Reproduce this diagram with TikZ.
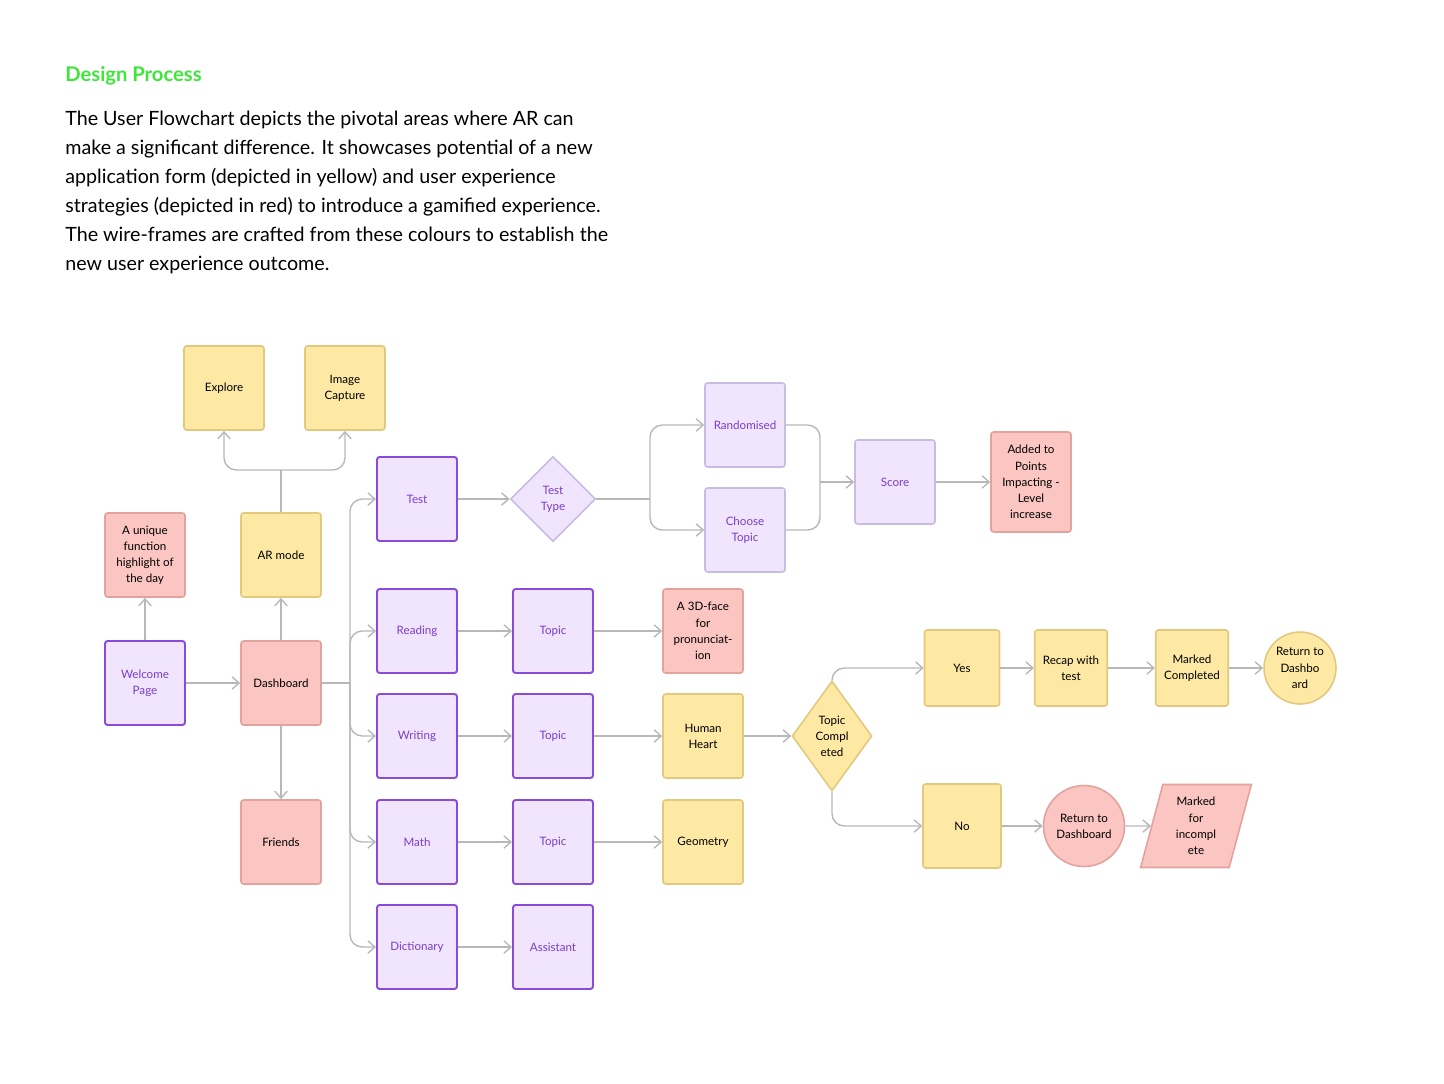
\documentclass[tikz,border=0pt]{standalone}
\usepackage{fontspec}
\setmainfont{Lato}
\usetikzlibrary{positioning,shapes,arrows.meta,calc}
\definecolor{ylwfill}{HTML}{FDE8A4}
\definecolor{ylwline}{HTML}{E2C97E}
\definecolor{redfill}{HTML}{FBC5C1}
\definecolor{redline}{HTML}{E2A29E}
\definecolor{purfill}{HTML}{F1E5FD}
\definecolor{purline}{HTML}{8A4BDB}
\definecolor{purtext}{HTML}{7A3CCB}
\definecolor{lpurline}{HTML}{C9BCE4}
\definecolor{greentitle}{HTML}{3EE63A}
\definecolor{connline}{HTML}{B8B8B8}

\begin{document}
\begin{tikzpicture}[x=0.02cm,y=-0.02cm,
    box/.style={rectangle,rounded corners=1.5pt,minimum width=1.6cm,minimum height=1.68cm,
                align=center,font=\fontsize{6.6}{9.2}\selectfont,inner sep=1pt},
    yellow node/.style={box,fill=ylwfill,draw=ylwline,line width=0.9pt},
    red node/.style={box,fill=redfill,draw=redline,line width=0.9pt},
    main node/.style={box,fill=purfill,draw=purline,line width=1.1pt,text=purtext},
    soft node/.style={box,fill=purfill,draw=lpurline,line width=0.9pt,text=purtext},
    conn/.style={draw=connline,line width=0.8pt,rounded corners=7pt,
                 -{Straight Barb[length=4pt,width=7pt]}},
    plain/.style={draw=connline,line width=0.8pt,rounded corners=7pt}
   ]
   \useasboundingbox (0,0) rectangle (1444,1083);

   % heading and text
   \node[anchor=base west,text=greentitle,font=\fontsize{11.5}{14}\selectfont\bfseries,inner sep=0]
        (title) at (65,81) {Design Process};
   \node[anchor=north west,align=left,inner sep=0,font=\fontsize{11.2}{16.45}\selectfont]
        (intro) at (65,111) {The User Flowchart depicts the pivotal areas where AR can\\
        make a significant difference. It showcases potential of a new\\
        application form (depicted in yellow) and user experience\\
        strategies (depicted in red) to introduce a gamified experience.\\
        The wire-frames are crafted from these colours to establish the\\
        new user experience outcome.};

   % left part
   \node[yellow node] (explore) at (224,388) {Explore};
   \node[yellow node] (capture) at (345,388) {Image\\Capture};
   \node[yellow node] (armode) at (281,555) {AR mode};
   \node[red node] (unique) at (145,555) {A unique\\function\\highlight of\\the day};
   \node[main node] (welcome) at (145,683) {Welcome\\Page};
   \node[red node] (dash) at (281,683) {Dashboard};
   \node[red node] (friends) at (281,842) {Friends};

   % subjects
   \node[diamond,aspect=1,fill=purfill,draw=lpurline,line width=0.9pt,text=purtext,
         minimum size=1.7cm,inner sep=0,align=center,font=\fontsize{6.6}{9.2}\selectfont]
         (testtype) at (553,499) {Test\\Type};
   \node[main node] (test) at (417,499) {Test};
   \node[soft node] (random) at (745,425) {Randomised};
   \node[soft node] (choose) at (745,530) {Choose\\Topic};
   \node[soft node] (score) at (895,482) {Score};
   \node[red node,minimum height=2cm] (added) at (1031,482) {Added to\\Points\\Impacting -\\Level\\increase};

   \node[main node] (reading) at (417,631) {Reading};
   \node[main node] (topicA) at (553,631) {Topic};
   \node[red node] (face) at (703,631) {A 3D-face\\for\\pronunciat-\\ion};
   \node[main node] (writing) at (417,736) {Writing};
   \node[main node] (topicB) at (553,736) {Topic};
   \node[yellow node] (heart) at (703,736) {Human\\Heart};
   \node[main node] (math) at (417,842) {Math};
   \node[main node] (topicC) at (553,842) {Topic};
   \node[yellow node] (geometry) at (703,842) {Geometry};
   \node[main node] (dictionary) at (417,947) {Dictionary};
   \node[main node] (assistant) at (553,947) {Assistant};

   % topic completed branch
   \node[diamond,aspect=0.72,fill=ylwfill,draw=ylwline,line width=0.9pt,inner sep=0,
         minimum width=1.6cm,minimum height=2.2cm,align=center,font=\fontsize{6.6}{9.2}\selectfont]
         (topicdone) at (832,736) {Topic\\Compl\\eted};
   \node[yellow node,minimum width=1.5cm,minimum height=1.52cm] (yes) at (962,668) {Yes};
   \node[yellow node,minimum width=1.45cm,minimum height=1.52cm] (recap) at (1071,668) {Recap with\\test};
   \node[yellow node,minimum width=1.45cm,minimum height=1.52cm] (marked) at (1192,668) {Marked\\Completed};
   \node[circle,fill=ylwfill,draw=ylwline,line width=0.9pt,minimum size=1.44cm,inner sep=0,
         align=center,font=\fontsize{6.6}{9.2}\selectfont] (backA) at (1300,668) {Return to\\Dashbo\\ard};
   \node[yellow node,minimum width=1.56cm] (no) at (962,826) {No};
   \node[circle,fill=redfill,draw=redline,line width=0.9pt,minimum size=1.62cm,inner sep=0,
         align=center,font=\fontsize{6.6}{9.2}\selectfont] (backB) at (1084,826) {Return to\\Dashboard};
   \node[trapezium,trapezium left angle=75,trapezium right angle=105,fill=redfill,draw=redline,
         line width=0.9pt,minimum height=1.66cm,text width=0.9cm,inner sep=1pt,align=center,
         font=\fontsize{6.6}{9.2}\selectfont] (incomplete) at (1196,826) {Marked\\for\\incompl\\ete};

   % helper points
   \coordinate (split) at (281,470);
   \coordinate (bus) at (350,683);
   \coordinate (fork) at (650,499);
   \coordinate (merge) at (820,482);

   \draw[conn] (welcome) -- (dash);
   \draw[conn] (welcome) -- (unique);
   \draw[conn] (dash) -- (armode);
   \draw[conn] (dash) -- (friends);
   \draw[plain] (armode) -- (split);
   \draw[conn] (split) -| (explore);
   \draw[conn] (split) -| (capture);
   \draw[plain] (dash.east) -- (bus);
   \foreach \t in {test,reading,writing,math,dictionary}
      \draw[conn] (bus) |- (\t.west);
   \draw[conn] (test) -- (testtype);
   \draw[plain] (testtype.east) -- (fork);
   \draw[conn] (fork) |- (random.west);
   \draw[conn] (fork) |- (choose.west);
   \draw[plain] (random.east) -| (merge);
   \draw[plain] (choose.east) -| (merge);
   \draw[conn] (merge) -- (score.west);
   \draw[conn] (score) -- (added);
   \draw[conn] (reading) -- (topicA);
   \draw[conn] (topicA) -- (face);
   \draw[conn] (writing) -- (topicB);
   \draw[conn] (topicB) -- (heart);
   \draw[conn] (heart) -- (topicdone);
   \draw[conn] (math) -- (topicC);
   \draw[conn] (topicC) -- (geometry);
   \draw[conn] (dictionary) -- (assistant);
   \draw[conn] (topicdone.north) |- (yes.west);
   \draw[conn] (topicdone.south) |- (no.west);
   \draw[conn] (yes) -- (recap);
   \draw[conn] (recap) -- (marked);
   \draw[conn] (marked) -- (backA);
   \draw[conn] (no) -- (backB);
   \draw[conn] (backB) -- (incomplete);
\end{tikzpicture}
\end{document}
